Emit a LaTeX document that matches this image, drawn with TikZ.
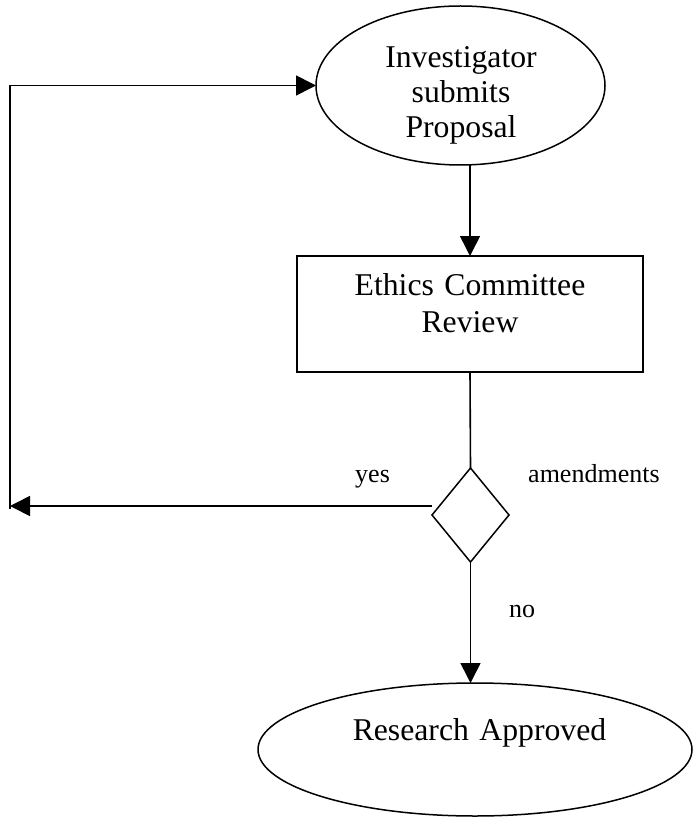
\documentclass[tikz,border=0pt]{standalone}
\usepackage{fontspec}
\setmainfont{Liberation Serif}
\usetikzlibrary{arrows.meta,shapes.geometric}

\begin{document}
\begin{tikzpicture}[
  x=1pt, y=-1pt,
  conn/.style={draw, line width=1.6pt},
  arr/.style={conn, -{Triangle[length=20pt,width=20pt]}},
  outlined/.style={draw, line width=1.5pt, inner sep=0pt, outer sep=0pt},
  bigtext/.style={inner sep=0pt, anchor=base, text width=340pt, align=center},
  small/.style={inner sep=0pt, anchor=base west, font=\fontsize{26}{30}\selectfont}
]
\useasboundingbox (0,0) rectangle (695,818);

% outlines
\node[outlined, ellipse, minimum width=289pt, minimum height=159pt] (prop) at (460.5,85.5) {};
\node[outlined, rectangle, minimum width=346pt, minimum height=116pt] (rev) at (470,314) {};
\node[outlined, diamond, minimum width=77pt, minimum height=94pt] (dec) at (470.5,515) {};
\node[outlined, ellipse, minimum width=434pt, minimum height=133pt] (ok) at (475,749.5) {};

% texts
\node[bigtext, font=\fontsize{31.7}{35}\selectfont] (propt) at (461,68) {Investigator\\submits\\Proposal};
\node[bigtext, font=\fontsize{31.7}{37}\selectfont] (revt) at (470,295) {Ethics Committee\\Review};
\node[bigtext, font=\fontsize{31.7}{37}\selectfont] (okt) at (479.5,740) {Research Approved};
\node[small] (yes) at (355,482) {yes};
\node[small] (amend) at (528,482) {amendments};
\node[small] (no) at (509,617) {no};

% connectors
\draw[arr] (rev.north |- prop.south) -- (rev.north);
\draw[conn] (rev.south) -- (dec.north);
\draw[arr] (dec.south) -- (dec.south |- ok.north);

\coordinate (back) at (10,506);
\draw[arr] ([yshift=9pt]dec.west) -- (back);
\draw[arr] ([yshift=-3pt]back) -- (back |- prop.west) -- (prop.west);
\end{tikzpicture}
\end{document}
